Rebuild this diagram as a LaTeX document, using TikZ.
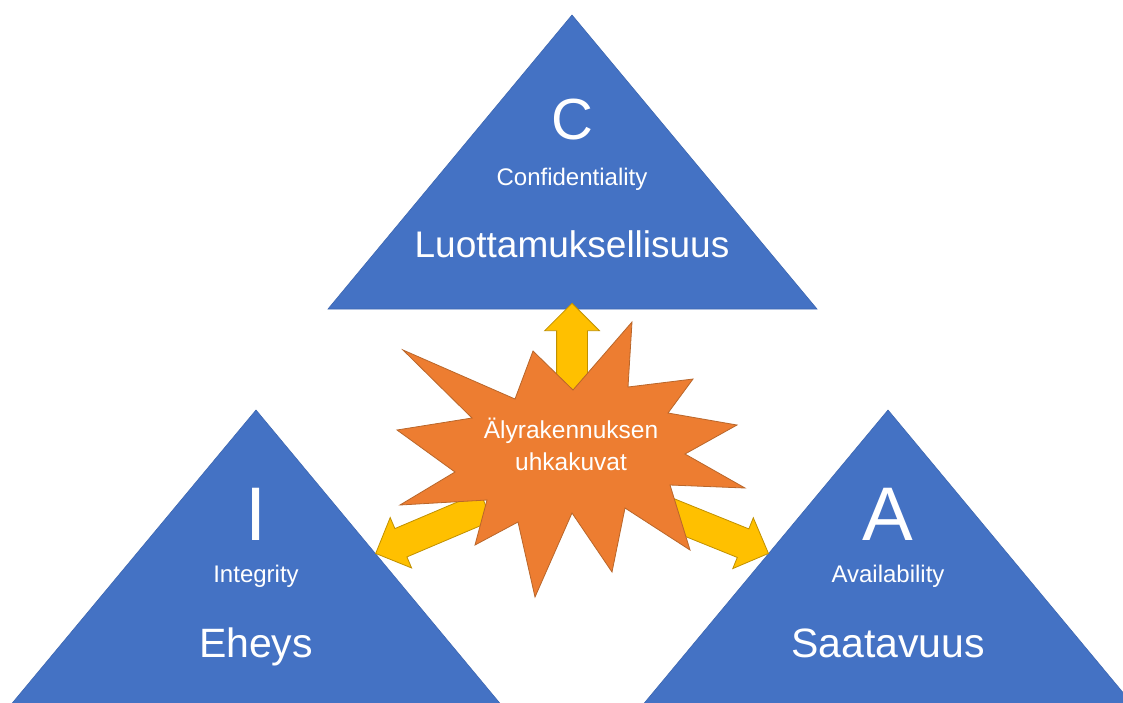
\documentclass[tikz,border=0pt]{standalone}
\usepackage{fontspec}
\setmainfont{Liberation Sans}
\usetikzlibrary{shapes.arrows}
\definecolor{triblue}{HTML}{4472C4}
\definecolor{triedge}{HTML}{3D67B1}
\definecolor{starfill}{HTML}{ED7D31}
\definecolor{staredge}{HTML}{B9662A}
\definecolor{arrfill}{HTML}{FFC000}
\definecolor{arredge}{HTML}{C09000}
\tikzset{
  tri/.style={fill=triblue, draw=triedge, line width=0.6pt},
  burst/.style={fill=starfill, draw=staredge, line width=0.8pt, line join=miter},
  yarrow/.style={single arrow, fill=arrfill, draw=arredge, line width=0.8pt,
    inner xsep=0pt, inner ysep=15pt, single arrow head extend=12pt,
    single arrow tip angle=90, minimum width=30pt},
  wtxt/.style={text=white, inner sep=0pt, anchor=base},
  lblBig/.style={wtxt, font=\fontsize{76pt}{80pt}\selectfont},
  lblC/.style={wtxt, font=\fontsize{58pt}{62pt}\selectfont},
  lblSmall/.style={wtxt, font=\fontsize{24pt}{28pt}\selectfont},
  lblName/.style={wtxt, font=\fontsize{41pt}{45pt}\selectfont},
  lblNameC/.style={wtxt, font=\fontsize{37pt}{41pt}\selectfont},
}
\begin{document}
\begin{tikzpicture}[x=1pt,y=-1pt]
\clip (0,0) rectangle (1123,702);
\fill[white] (0,0) rectangle (1123,702);

% triangles
\draw[tri] (572,15) -- (817,309) -- (328,309) -- cycle;
\draw[tri] (256,410) -- (500.5,704) -- (11.5,704) -- cycle;
\draw[tri] (888,410) -- (1132.5,704) -- (643.5,704) -- cycle;

% arrows
\node[yarrow, minimum height=90pt, rotate=90] (upArrow) at (572,356) {};
\node[yarrow, minimum height=120pt, rotate=203] (leftArrow) at (438,527) {};
\node[yarrow, minimum height=115pt, rotate=-22] (rightArrow) at (708,529) {};

% explosion
\draw[burst] (403,350) -- (515,399) -- (533,351) -- (573,390) -- (632,322)
  -- (628,387) -- (693,379) -- (668,413) -- (737,425) -- (685,454)
  -- (745,488) -- (670,485) -- (690,550) -- (625,508) -- (612,572)
  -- (572,513) -- (535,597) -- (518,522) -- (475,545) -- (487,500)
  -- (400,505) -- (455,472) -- (397,430) -- (472,418) -- cycle;
\node[text=white, align=center, inner sep=0pt,
  font=\fontsize{24.5pt}{32pt}\selectfont] (threat) at (571,444)
  {Älyrakennuksen\\uhkakuvat};

% texts top
\node[lblC] (cLetter) at (572,139) {C};
\node[lblSmall] (cEn) at (572,185) {Confidentiality};
\node[lblNameC] (cFi) at (572,257) {Luottamuksellisuus};

% texts left
\node[lblBig] (iLetter) at (256,540) {I};
\node[lblSmall] (iEn) at (256,582) {Integrity};
\node[lblName] (iFi) at (256,657) {Eheys};

% texts right
\node[lblBig] (aLetter) at (888,540) {A};
\node[lblSmall] (aEn) at (888,582) {Availability};
\node[lblName] (aFi) at (888,657) {Saatavuus};
\end{tikzpicture}
\end{document}
